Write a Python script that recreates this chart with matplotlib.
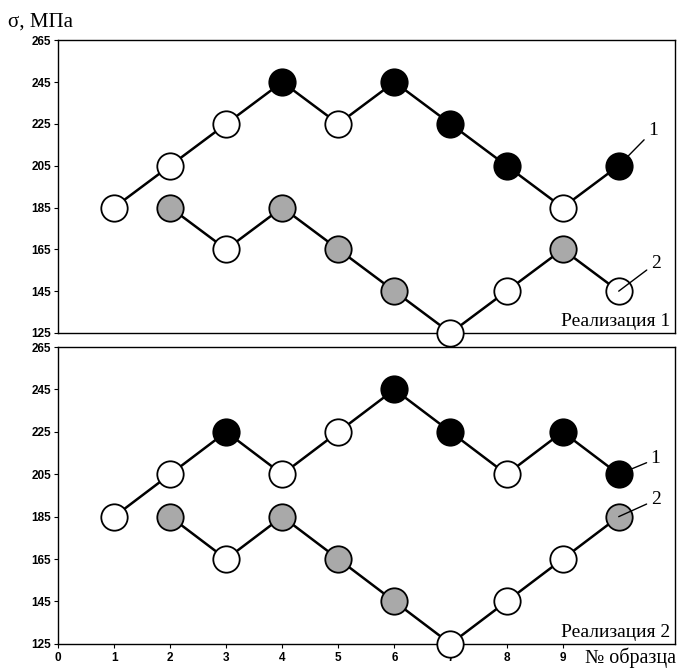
import matplotlib
matplotlib.use("Agg")
import matplotlib.pyplot as plt

# ---- data ----
samples1 = [1, 2, 3, 4, 5, 6, 7, 8, 9, 10]
samples2 = [2, 3, 4, 5, 6, 7, 8, 9, 10]

r1_s1 = [185, 205, 225, 245, 225, 245, 225, 205, 185, 205]
r1_s1_fill = ['w', 'w', 'w', 'k', 'w', 'k', 'k', 'k', 'w', 'k']
r1_s2 = [185, 165, 185, 165, 145, 125, 145, 165, 145]
r1_s2_fill = ['g', 'w', 'g', 'g', 'g', 'w', 'w', 'g', 'w']

r2_s1 = [185, 205, 225, 205, 225, 245, 225, 205, 225, 205]
r2_s1_fill = ['w', 'w', 'k', 'w', 'w', 'k', 'k', 'w', 'k', 'k']
r2_s2 = [185, 165, 185, 165, 145, 125, 145, 165, 185]
r2_s2_fill = ['g', 'w', 'g', 'g', 'g', 'w', 'w', 'w', 'g']

yticks = [125, 145, 165, 185, 205, 225, 245, 265]
xticks = [0, 1, 2, 3, 4, 5, 6, 7, 8, 9]
panel_titles = ['Реализация 1', 'Реализация 2']
series_labels = ['1', '2']
ylabel = 'σ, МПа'
xlabel = '№ образца'

colors = {'w': 'white', 'k': 'black', 'g': '#a9a9a9'}

serif = ['Liberation Serif', 'DejaVu Serif']
sans = ['Liberation Sans', 'DejaVu Sans']

fig = plt.figure(figsize=(6.77, 6.70), dpi=100)
ax1 = fig.add_axes([0.0857, 0.503, 0.911, 0.437])
ax2 = fig.add_axes([0.0857, 0.039, 0.911, 0.443])


def draw(ax, s1, f1, s2, f2, title, off1, off2):
    for xs, ys, fs in ((samples1, s1, f1), (samples2, s2, f2)):
        ax.plot(xs, ys, color='black', lw=1.8, zorder=2, clip_on=False)
        for x, y, f in zip(xs, ys, fs):
            ax.plot([x], [y], marker='o', ms=19, mfc=colors[f], mec='black',
                    mew=1.3, zorder=3, clip_on=False, ls='none')
    ax.set_xlim(0, 11)
    ax.set_ylim(125, 265)
    ax.set_yticks(yticks)
    ax.tick_params(axis='y', direction='out', length=3, width=0.8, pad=2,
                   labelsize=8.5)
    for lab in ax.get_yticklabels():
        lab.set_family(sans)
        lab.set_fontweight('bold')
    for sp in ax.spines.values():
        sp.set_linewidth(1.0)
    ax.text(0.992, 0.01, title, transform=ax.transAxes, ha='right', va='bottom',
            fontsize=14, family=serif)
    # leader labels
    for (xs, ys), lab, off in (((samples1, s1), series_labels[0], off1),
                               ((samples2, s2), series_labels[1], off2)):
        ax.annotate(lab, xy=(xs[-1], ys[-1]), xytext=off,
                    textcoords='offset points', fontsize=14, family=serif,
                    ha='left', va='center',
                    arrowprops=dict(arrowstyle='-', color='black', lw=1.0,
                                    shrinkA=1, shrinkB=0))


draw(ax1, r1_s1, r1_s1_fill, r1_s2, r1_s2_fill, panel_titles[0],
     (21, 25), (23, 20))
draw(ax2, r2_s1, r2_s1_fill, r2_s2, r2_s2_fill, panel_titles[1],
     (23, 11), (23, 12))

ax1.set_xticks([])
ax2.set_xticks(xticks)
ax2.tick_params(axis='x', direction='out', length=3, width=0.8, pad=3,
                labelsize=8.5)
for lab in ax2.get_xticklabels():
    lab.set_family(sans)
    lab.set_fontweight('bold')

fig.text(0.999, 0.003, xlabel, ha='right', va='bottom', fontsize=14.5,
         family=serif)
fig.text(0.012, 0.953, ylabel, ha='left', va='bottom', fontsize=15,
         family=serif)

fig.savefig('out.png', dpi=100)
